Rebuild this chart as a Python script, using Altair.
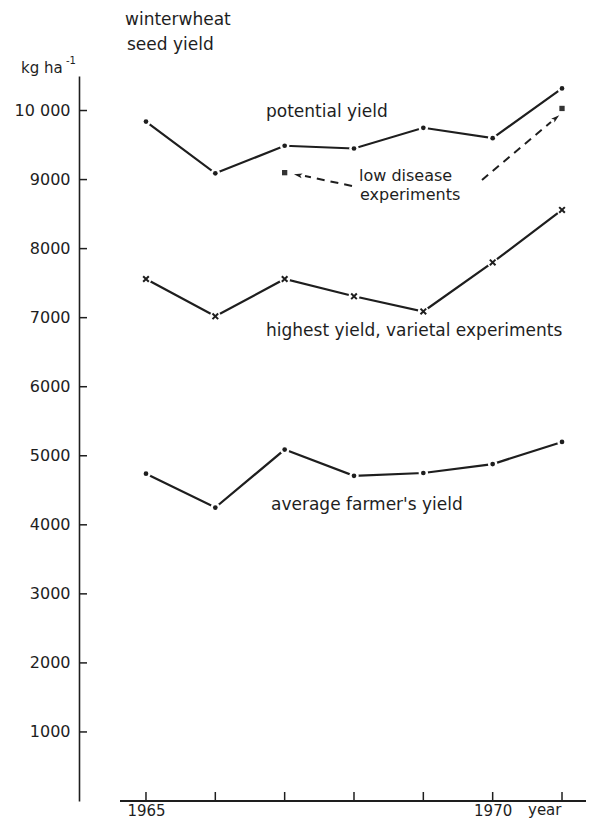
import altair as alt
import pandas as pd

# ---- data ----
years = [1965, 1966, 1967, 1968, 1969, 1970, 1971]
potential_yield = [9840, 9090, 9490, 9450, 9750, 9600, 10320]
highest_yield = [7560, 7020, 7560, 7310, 7090, 7800, 8560]
farmer_yield = [4740, 4250, 5090, 4710, 4750, 4880, 5200]
low_disease_years = [1967, 1971]
low_disease_yield = [9100, 10030]
y_tick_values = [1000, 2000, 3000, 4000, 5000, 6000, 7000, 8000, 9000, 10000]
x_label_values = [1965, 1970]

FONT = "DejaVu Sans"
INK = "#1e1e1e"
W, H = 507, 725

pot = pd.DataFrame({"year": years, "value": potential_yield})
high = pd.DataFrame({"year": years, "value": highest_yield})
farm = pd.DataFrame({"year": years, "value": farmer_yield})
low = pd.DataFrame({"year": low_disease_years, "value": low_disease_yield})
yt = pd.DataFrame({"value": y_tick_values})
xt = pd.DataFrame({"year": years})
one = pd.DataFrame({"a": [0]})

xs = alt.Scale(domain=[1964.034, 1971.346], nice=False, zero=False)
ys = alt.Scale(domain=[0, 10500], nice=False, zero=True)

x_axis = alt.Axis(values=x_label_values, format="d", title=None, ticks=False,
                  domain=False, grid=False, labelFont=FONT, labelFontSize=15,
                  labelColor=INK, labelPadding=2)
y_axis = alt.Axis(values=y_tick_values, format="d", title=None, ticks=False,
                  domain=True, domainColor=INK, domainWidth=1.6, grid=False,
                  labelFont=FONT, labelFontSize=16, labelColor=INK, labelPadding=9,
                  labelExpr="datum.value == 10000 ? '10 000' : datum.label")

def X():
    return alt.X("year:Q", scale=xs, axis=x_axis)

def Y():
    return alt.Y("value:Q", scale=ys, axis=y_axis)

def line(df):
    return alt.Chart(df).mark_line(color=INK, strokeWidth=2.2).encode(x=X(), y=Y())

def halo(df, size):
    return alt.Chart(df).mark_point(shape="circle", filled=True, fill="white", size=size,
                                    opacity=1).encode(x=X(), y=Y())

def dots(df):
    return alt.Chart(df).mark_point(shape="circle", filled=True, fill=INK, size=22,
                                    opacity=1).encode(x=X(), y=Y())

crosses = alt.Chart(high).mark_point(shape="M-1,-1L1,1M1,-1L-1,1", filled=False,
                                     stroke=INK, strokeWidth=2, size=32, opacity=1).encode(
    x=X(), y=Y())

squares = alt.Chart(low).mark_point(shape="square", filled=True, fill="#333", size=28,
                                    opacity=1).encode(x=X(), y=Y())

y_ticks = alt.Chart(yt).mark_rule(color=INK, strokeWidth=1.5).encode(
    x=alt.value(0), x2=alt.value(8), y=Y())
x_ticks = alt.Chart(xt).mark_rule(color=INK, strokeWidth=1.5).encode(
    x=X(), y=alt.value(H), y2=alt.value(H - 9))
x_line = alt.Chart(one).mark_rule(color=INK, strokeWidth=1.8).encode(
    x=alt.value(41), x2=alt.value(W), y=alt.value(H))

def txt(s, x, y, size=17, align="left", baseline="middle"):
    return alt.Chart(one).mark_text(text=s, font=FONT, fontSize=size, color=INK,
                                    align=align, baseline=baseline).encode(
        x=alt.value(x), y=alt.value(y))

def dash(x1, y1, x2, y2):
    return alt.Chart(one).mark_rule(color=INK, strokeWidth=2, strokeDash=[8, 6]).encode(
        x=alt.value(x1), y=alt.value(y1), x2=alt.value(x2), y2=alt.value(y2))

def head(x, y, ang):
    return alt.Chart(one).mark_point(shape="M0,-1L0.6,1L0,0.55L-0.6,1Z", filled=True,
                                     fill=INK, size=70, angle=ang, opacity=1).encode(
        x=alt.value(x), y=alt.value(y))

texts = [
    txt("winterwheat", 46, -56),
    txt("seed yield", 48, -31),
    txt("kg ha", -58, -8, size=15),
    txt("-1", -13, -15, size=10),
    txt("potential yield", 187, 36),
    txt("low disease", 280, 100, size=16),
    txt("experiments", 281, 119, size=16),
    txt("highest yield, varietal experiments", 187, 255),
    txt("average farmer's yield", 192, 429),
    txt("year", 449, 739, size=15, baseline="alphabetic"),
]

arrows = [
    dash(273, 110, 226, 100), head(219, 99, 282),
    dash(403, 104, 472, 46), head(477, 42, 50),
]

chart = alt.layer(
    line(pot), line(farm), line(high),
    y_ticks, x_ticks, x_line,
    halo(pot, 90), halo(farm, 90), halo(high, 120),
    dots(pot), dots(farm), crosses, squares,
    *arrows, *texts,
).properties(
    width=W, height=H,
    padding={"left": 71, "top": 68, "right": 0, "bottom": 19},
    autosize=alt.AutoSizeParams(type="none"),
    background="white",
).configure_view(stroke=None)

chart.save("out.html", embed_options={"renderer": "svg", "actions": False})
